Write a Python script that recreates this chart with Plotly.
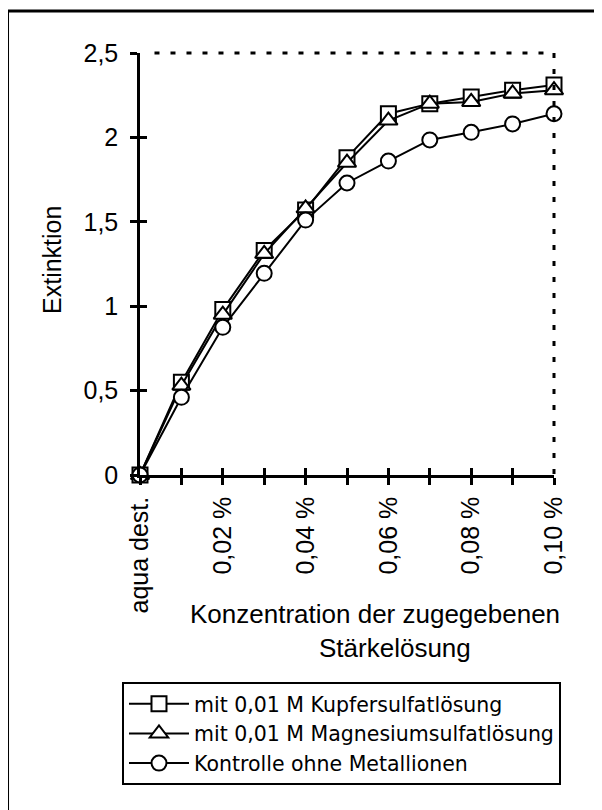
import plotly.graph_objects as go

categories = ["aqua dest.", "0,01 %", "0,02 %", "0,03 %", "0,04 %", "0,05 %",
              "0,06 %", "0,07 %", "0,08 %", "0,09 %", "0,10 %"]
tick_labels = ["aqua dest.", "", "0,02 %", "", "0,04 %", "", "0,06 %", "", "0,08 %", "", "0,10 %"]

kupfer = [0, 0.55, 0.98, 1.33, 1.57, 1.88, 2.14, 2.20, 2.24, 2.28, 2.31]
magnesium = [0, 0.53, 0.95, 1.31, 1.58, 1.85, 2.10, 2.20, 2.21, 2.26, 2.28]
kontrolle = [0, 0.46, 0.875, 1.195, 1.51, 1.73, 1.86, 1.985, 2.03, 2.08, 2.14]

series_names = ["mit 0,01 M Kupfersulfatlösung",
                "mit 0,01 M Magnesiumsulfatlösung",
                "Kontrolle ohne Metallionen"]
y_ticks = [0, 0.5, 1, 1.5, 2, 2.5]

AX_FONT = dict(family="Liberation Sans, Arial, sans-serif", size=25, color="black")
TITLE_FONT = dict(family="Liberation Sans, Arial, sans-serif", size=26, color="black")

fig = go.Figure()
for vals, name, sym, size in [(kupfer, series_names[0], "square", 15),
                              (magnesium, series_names[1], "triangle-up", 16),
                              (kontrolle, series_names[2], "circle", 15)]:
    fig.add_trace(go.Scatter(
        x=categories, y=vals, name=name, mode="lines+markers",
        line=dict(color="black", width=2),
        marker=dict(symbol=sym, size=size, color="white",
                    line=dict(color="black", width=2)),
        cliponaxis=False, legendgroup=name,
    ))

# helper trace for the inner-tick axes
fig.add_trace(go.Scatter(x=[None], y=[None], xaxis="x2", yaxis="y2",
                         showlegend=False, hoverinfo="skip"))

fig.update_layout(
    width=594, height=802,
    margin=dict(l=132, r=48, t=45, b=335),
    paper_bgcolor="white", plot_bgcolor="white",
    separators=", ",
    showlegend=True,
    xaxis=dict(type="category", range=[0, 10], tickvals=categories, ticktext=tick_labels,
               tickangle=-90, ticks="outside", ticklen=7, tickwidth=2.5, tickcolor="black",
               showline=True, linecolor="black", linewidth=2.5, showgrid=False,
               zeroline=False, tickfont=AX_FONT, ticklabelstandoff=2),
    yaxis=dict(range=[0, 2.5], tickvals=y_ticks, tickformat=".1~f",
               ticks="outside", ticklen=7, tickwidth=2.5, tickcolor="black",
               showline=True, linecolor="black", linewidth=2.5, showgrid=False,
               zeroline=False, tickfont=AX_FONT, ticklabelstandoff=7),
    xaxis2=dict(overlaying="x", anchor="y2", range=[0, 10], tick0=0, dtick=1,
                ticks="inside", ticklen=7, tickwidth=2.5, tickcolor="black",
                showticklabels=False, showgrid=False, zeroline=False, showline=False),
    yaxis2=dict(overlaying="y", anchor="x2", range=[0, 2.5], tick0=0, dtick=0.5,
                ticks="inside", ticklen=7, tickwidth=2.5, tickcolor="black",
                showticklabels=False, showgrid=False, zeroline=False, showline=False),
    legend=dict(x=-0.0435, y=-0.4905, xanchor="left", yanchor="top",
                bordercolor="black", borderwidth=2, bgcolor="white",
                font=dict(family="DejaVu Sans, Verdana, sans-serif", size=20.5, color="black"),
                itemwidth=60, tracegroupgap=0),
    annotations=[
        dict(text="Extinktion", xref="paper", yref="paper", x=-0.2126, y=0.5095,
             textangle=-90, showarrow=False, font=AX_FONT, xanchor="center", yanchor="middle"),
        dict(text="Konzentration der zugegebenen", xref="paper", yref="paper",
             x=0.5676, y=-0.329, showarrow=False, font=TITLE_FONT,
             xanchor="center", yanchor="middle"),
        dict(text="Stärkelösung", xref="paper", yref="paper",
             x=0.616, y=-0.41, showarrow=False, font=TITLE_FONT,
             xanchor="center", yanchor="middle"),
    ],
    shapes=[
        dict(type="line", xref="paper", yref="paper", x0=0.035, y0=1, x1=1, y1=1,
             line=dict(color="black", width=3, dash="5px,11px")),
        dict(type="line", xref="paper", yref="paper", x0=1, y0=1, x1=1, y1=0,
             line=dict(color="black", width=3, dash="5px,11px")),
        # outer frame (left and top edges; the others run off the page)
        dict(type="line", xref="paper", yref="paper", x0=-0.32, y0=1.0995, x1=1.5, y1=1.0995,
             line=dict(color="black", width=3)),
        dict(type="line", xref="paper", yref="paper", x0=-0.32, y0=1.0995, x1=-0.32, y1=-1.2,
             line=dict(color="black", width=3)),
    ],
)

fig.write_html("out.html")
